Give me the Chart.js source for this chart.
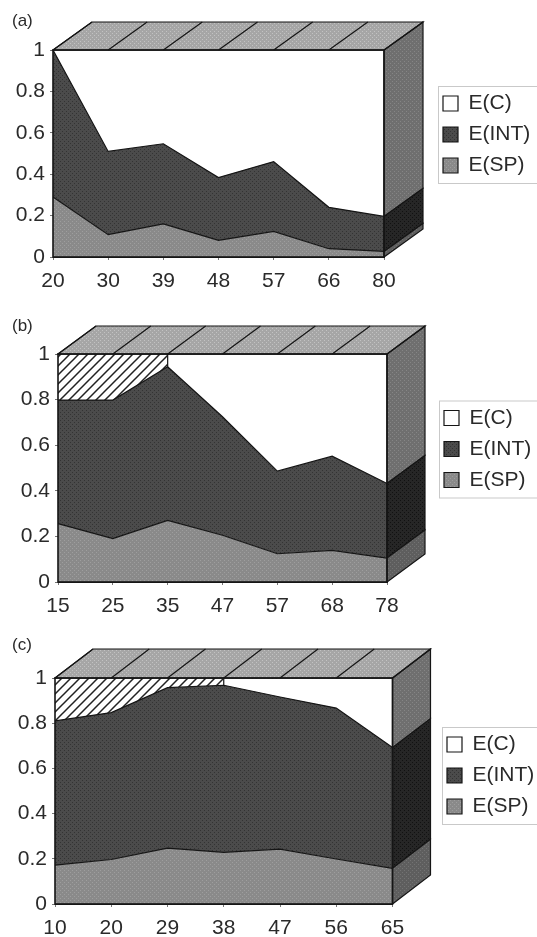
<!DOCTYPE html>
<html>
<head>
<meta charset="utf-8">
<style>
  html, body { margin: 0; padding: 0; background: #fff; overflow: hidden; width: 537px; height: 937px; }
  canvas { position: absolute; left: 0; }
</style>
<script src="https://cdn.jsdelivr.net/npm/chart.js@4"></script>
</head>
<body>
<canvas id="chartA"></canvas>
<canvas id="chartB"></canvas>
<canvas id="chartC"></canvas>
<script>
const yTickLabels = ["0", "0.2", "0.4", "0.6", "0.8", "1"];

// (a)
const categoriesA = ["20", "30", "39", "48", "57", "66", "80"];
const spA = [0.29, 0.108, 0.16, 0.08, 0.124, 0.04, 0.027];
const intA = [0.71, 0.402, 0.387, 0.304, 0.337, 0.2, 0.169];
const hatchA = [null, null, null, null, null, null, null];
const cA = [0, 0.49, 0.453, 0.616, 0.539, 0.76, 0.804];

// (b)
const categoriesB = ["15", "25", "35", "47", "57", "68", "78"];
const spB = [0.256, 0.19, 0.27, 0.205, 0.124, 0.139, 0.105];
const intB = [0.542, 0.608, 0.674, 0.52, 0.362, 0.413, 0.327];
const hatchB = [0.202, 0.202, 0.056, null, null, null, null];
const cB = [null, null, 0, 0.275, 0.514, 0.448, 0.568];

// (c)
const categoriesC = ["10", "20", "29", "38", "47", "56", "65"];
const spC = [0.172, 0.197, 0.247, 0.228, 0.243, 0.199, 0.158];
const intC = [0.638, 0.65, 0.71, 0.74, 0.673, 0.668, 0.534];
const hatchC = [0.19, 0.153, 0.043, 0.032, null, null, null];
const cC = [null, null, null, 0, 0.084, 0.133, 0.308];

const FONT = "'Liberation Sans', Arial, sans-serif";
const INK = "#2a2a2a";

function texture(base, dot) {
  const tile = document.createElement("canvas");
  tile.width = tile.height = 4;
  const g = tile.getContext("2d");
  g.fillStyle = base;
  g.fillRect(0, 0, 4, 4);
  g.fillStyle = dot;
  g.fillRect(0, 0, 1, 1);
  g.fillRect(2, 2, 1, 1);
  return g.createPattern(tile, "repeat");
}

function hatching() {
  const tile = document.createElement("canvas");
  tile.width = tile.height = 9;
  const g = tile.getContext("2d");
  g.fillStyle = "#fff";
  g.fillRect(0, 0, 9, 9);
  g.strokeStyle = "#222";
  g.lineWidth = 1.5;
  g.beginPath();
  g.moveTo(-2, 11); g.lineTo(11, -2);
  g.moveTo(-2, 2); g.lineTo(2, -2);
  g.moveTo(7, 11); g.lineTo(11, 7);
  g.stroke();
  return g.createPattern(tile, "repeat");
}

const fillSp = texture("#8a8a8a", "#9e9e9e");
const fillInt = texture("#4b4b4b", "#333333");
const fillTop = texture("#a6a6a6", "#c2c2c2");
const sideC = texture("#6f6f6f", "#858585");
const sideInt = texture("#262626", "#111111");
const sideSp = texture("#5e5e5e", "#737373");
const fillHatch = hatching();

// top face, right side and frame of the fake 3D box
const box3d = {
  id: "box3d",
  afterDatasetsDraw(chart, args, opts) {
    const { ctx, chartArea: a, scales: { x, y } } = chart;
    const dx = opts.dx, dy = opts.dy;
    const n = chart.data.labels.length - 1;
    const sp = chart.data.datasets[0].data[n];
    const int = chart.data.datasets[1].data[n];
    const ySp = y.getPixelForValue(sp);
    const yInt = y.getPixelForValue(sp + int);
    const face = (y0, y1, fill) => {
      ctx.beginPath();
      ctx.moveTo(a.right, y0);
      ctx.lineTo(a.right + dx, y0 + dy);
      ctx.lineTo(a.right + dx, y1 + dy);
      ctx.lineTo(a.right, y1);
      ctx.closePath();
      ctx.fillStyle = fill;
      ctx.fill();
      ctx.stroke();
    };
    ctx.save();
    ctx.strokeStyle = "#151515";
    ctx.lineWidth = 1.2;
    face(a.top, yInt, sideC);
    face(yInt, ySp, sideInt);
    face(ySp, a.bottom, sideSp);

    ctx.beginPath();
    ctx.moveTo(a.left, a.top);
    ctx.lineTo(a.left + dx, a.top + dy);
    ctx.lineTo(a.right + dx, a.top + dy);
    ctx.lineTo(a.right, a.top);
    ctx.closePath();
    ctx.fillStyle = fillTop;
    ctx.fill();
    ctx.stroke();

    ctx.beginPath();
    chart.data.labels.forEach((l, i) => {
      const px = x.getPixelForValue(i);
      ctx.moveTo(px, a.top);
      ctx.lineTo(px + dx, a.top + dy);
    });
    // end of the hatched band
    const h = chart.data.datasets[2].data;
    const last = h.reduce((m, v, i) => (v !== null ? i : m), -1);
    if (last >= 0) {
      const px = x.getPixelForValue(last);
      ctx.moveTo(px, a.top);
      ctx.lineTo(px, y.getPixelForValue(1 - h[last]));
    }
    ctx.stroke();

    ctx.lineWidth = 1.6;
    ctx.strokeRect(a.left, a.top, a.right - a.left, a.bottom - a.top);
    ctx.restore();
  },
  afterDraw(chart) {
    const { ctx, legend } = chart;
    const boxes = legend.legendHitBoxes;
    const top = boxes[0].top - 7;
    const bottom = boxes[boxes.length - 1].top + boxes[boxes.length - 1].height + 7;
    ctx.save();
    ctx.strokeStyle = "#c9c9c9";
    ctx.lineWidth = 1;
    ctx.strokeRect(legend.left + 5.5, top + 0.5, chart.width, bottom - top);
    ctx.restore();
  }
};

function drawPanel(id, title, labels, sp, int, hatch, c, place) {
  const el = document.getElementById(id);
  el.width = place.width;
  el.height = place.height;
  el.style.top = place.top + "px";
  new Chart(el, {
    type: "line",
    plugins: [box3d],
    data: {
      labels: labels,
      datasets: [
        { label: "E(SP)", data: sp, backgroundColor: fillSp, fill: "origin" },
        { label: "E(INT)", data: int, backgroundColor: fillInt, fill: 0 },
        { label: "hatched", data: hatch, backgroundColor: fillHatch, fill: 1 },
        { label: "E(C)", data: c, backgroundColor: "#ffffff", fill: 1 }
      ].map(d => Object.assign(d, { borderColor: "#151515", borderWidth: 1.2, pointRadius: 0, tension: 0 }))
    },
    options: {
      responsive: false,
      animation: false,
      layout: { padding: { left: place.titleX, right: 8 } },
      plugins: {
        box3d: { dx: place.dx, dy: place.dy },
        tooltip: { enabled: false },
        title: {
          display: true,
          text: title,
          align: "start",
          color: INK,
          font: { family: FONT, size: 17, weight: "normal" },
          padding: { top: place.titleTop, bottom: place.plotTop - place.titleTop - 20.4 }
        },
        legend: {
          position: "right",
          reverse: true,
          maxWidth: 104,
          labels: {
            filter: item => item.text !== "hatched",
            boxWidth: 15,
            boxHeight: 15,
            padding: 10,
            color: INK,
            font: { family: FONT, size: 21 }
          }
        }
      },
      scales: {
        x: {
          stacked: true,
          offset: false,
          grid: { drawOnChartArea: false, color: "#777", tickLength: 3 },
          border: { color: "#222" },
          ticks: { color: INK, padding: 9, maxRotation: 0, autoSkip: false, font: { family: FONT, size: 21 } },
          afterFit: s => { s.height = place.height - place.plotBottom; }
        },
        y: {
          stacked: true,
          min: 0,
          max: 1,
          grid: { drawOnChartArea: false, color: "#777", tickLength: 3 },
          border: { color: "#222" },
          ticks: {
            stepSize: 0.2,
            padding: 5,
            color: INK,
            font: { family: FONT, size: 21 },
            callback: (v, i) => yTickLabels[i]
          },
          afterFit: s => { s.width = place.plotLeft - place.titleX; }
        },
        gap: {
          position: "right",
          display: true,
          grid: { display: false },
          border: { display: false },
          ticks: { display: false },
          afterFit: s => { s.width = place.gap; }
        }
      }
    }
  });
}

drawPanel("chartA", "(a)", categoriesA, spA, intA, hatchA, cA,
  { top: -23, width: 545, height: 315, titleX: 12, titleTop: 34.5, plotTop: 73, plotLeft: 53, plotBottom: 280, gap: 49, dx: 39, dy: -28 });
drawPanel("chartB", "(b)", categoriesB, spB, intB, hatchB, cB,
  { top: 280, width: 546, height: 338, titleX: 12, titleTop: 36, plotTop: 74, plotLeft: 58, plotBottom: 302, gap: 47, dx: 38, dy: -28 });
drawPanel("chartC", "(c)", categoriesC, spC, intC, hatchC, cC,
  { top: 614, width: 549, height: 323, titleX: 12, titleTop: 21, plotTop: 64, plotLeft: 55, plotBottom: 290, gap: 44.5, dx: 38, dy: -29 });
</script>
</body>
</html>
